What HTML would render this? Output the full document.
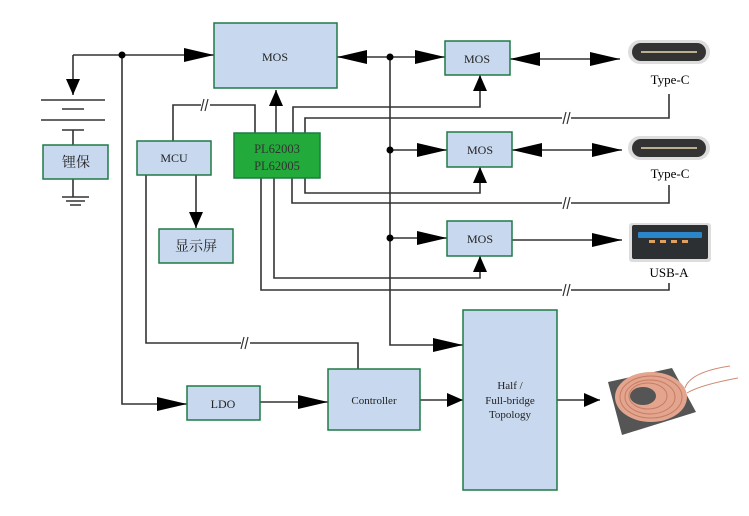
<!DOCTYPE html>
<html><head><meta charset="utf-8"><style>
html,body{margin:0;padding:0;background:#fff}
svg text{font-family:"Liberation Serif","Noto Serif CJK SC",serif;}
</style></head><body>
<svg width="749" height="511" viewBox="0 0 749 511" xmlns="http://www.w3.org/2000/svg">
<defs>
<marker id="A" viewBox="0 0 10 10" refX="10" refY="5" markerWidth="30" markerHeight="14" markerUnits="userSpaceOnUse" orient="auto" preserveAspectRatio="none"><path d="M0,0L10,5L0,10z" fill="#000"/></marker>
<marker id="As" viewBox="0 0 10 10" refX="0" refY="5" markerWidth="30" markerHeight="14" markerUnits="userSpaceOnUse" orient="auto" preserveAspectRatio="none"><path d="M10,0L0,5L10,10z" fill="#000"/></marker>
<marker id="U" viewBox="0 0 10 10" refX="10" refY="5" markerWidth="16" markerHeight="14" markerUnits="userSpaceOnUse" orient="auto" preserveAspectRatio="none"><path d="M0,0L10,5L0,10z" fill="#000"/></marker>
</defs>
<g fill="none" stroke="#333" stroke-width="1.6">
<path d="M73,55H214" marker-end="url(#A)"/>
<path d="M73,55V95" marker-end="url(#U)"/>
<path d="M122,55V404H187" marker-end="url(#A)"/>
<path d="M41,100H105M62,109H84M41,120H105M62,130H84M73,130V145M73,179V197M62,197H89M66,201H85M70,205H81"/>
<path d="M337,57H445" marker-start="url(#As)" marker-end="url(#A)"/>
<path d="M390,57V345H463" marker-end="url(#A)"/>
<path d="M390,150H447" marker-end="url(#A)"/>
<path d="M390,238H447" marker-end="url(#A)"/>
<path d="M510,59H620" marker-start="url(#As)" marker-end="url(#A)"/>
<path d="M512,150H622" marker-start="url(#As)" marker-end="url(#A)"/>
<path d="M512,240H622" marker-end="url(#A)"/>
<path d="M276,133V90" marker-end="url(#U)"/>
<path d="M173,141V105H255V133"/>
<path d="M196,175V228" marker-end="url(#U)"/>
<path d="M146,175V343H358V369"/>
<path d="M293,133V107H480V75" marker-end="url(#U)"/>
<path d="M305,133V118H669V94"/>
<path d="M305,178V193H480V167" marker-end="url(#U)"/>
<path d="M292,178V203H669V185"/>
<path d="M274,178V278H480V256" marker-end="url(#U)"/>
<path d="M261,178V290H669V283"/>
<path d="M260,402H328" marker-end="url(#A)"/>
<path d="M420,400H463" marker-end="url(#U)"/>
<path d="M557,400H600" marker-end="url(#U)"/>
</g>
<g fill="#fff" stroke="none"><rect x="201" y="100" width="9" height="10"/><rect x="241" y="338" width="9" height="10"/><rect x="562" y="113" width="9" height="10"/><rect x="562" y="198" width="9" height="10"/><rect x="562" y="285" width="9" height="10"/></g>
<g stroke="#333" stroke-width="1.2" fill="none">
<path d="M204,99L201,111M208,99L205,111M244,337L241,349M248,337L245,349M566,112L563,124M570,112L567,124M566,197L563,209M570,197L567,209M566,284L563,296M570,284L567,296"/>
</g>
<g fill="#000"><circle cx="122" cy="55" r="3.5"/><circle cx="390" cy="57" r="3.5"/><circle cx="390" cy="150" r="3.5"/><circle cx="390" cy="238" r="3.5"/></g>
<g fill="#c8d8ee" stroke="#1f7a45" stroke-width="1.5">
<rect x="214" y="23" width="123" height="65"/>
<rect x="43" y="145" width="65" height="34"/>
<rect x="137" y="141" width="74" height="34"/>
<rect x="159" y="229" width="74" height="34"/>
<rect x="445" y="41" width="65" height="34"/>
<rect x="447" y="132" width="65" height="35"/>
<rect x="447" y="221" width="65" height="35"/>
<rect x="187" y="386" width="73" height="34"/>
<rect x="328" y="369" width="92" height="61"/>
<rect x="463" y="310" width="94" height="180"/>
<rect x="234" y="133" width="86" height="45" fill="#22aa3a"/>
</g>
<g font-size="12" fill="#222" text-anchor="middle">
<text x="275" y="61">MOS</text>
<text x="477" y="63">MOS</text>
<text x="480" y="154">MOS</text>
<text x="480" y="243">MOS</text>
<text x="174" y="162">MCU</text>
<text x="76" y="167" font-size="14">锂保</text>
<text x="196" y="251" font-size="14">显示屏</text>
<text x="277" y="153" font-size="12.5" fill="#333">PL62003</text>
<text x="277" y="170" font-size="12.5" fill="#333">PL62005</text>
<text x="223" y="408">LDO</text>
<text x="374" y="404" font-size="11">Controller</text>
<text x="510" y="389" font-size="11">Half /</text>
<text x="510" y="404" font-size="11">Full-bridge</text>
<text x="510" y="418" font-size="11">Topology</text>
<text x="670" y="84" font-size="13" fill="#000">Type-C</text>
<text x="670" y="178" font-size="13" fill="#000">Type-C</text>
<text x="669" y="277" font-size="13" fill="#000">USB-A</text>
</g>
<g>
<rect x="628" y="40" width="82" height="24" rx="12" fill="#ddd"/>
<rect x="632" y="43" width="74" height="18" rx="9" fill="#333"/>
<line x1="641" y1="52" x2="697" y2="52" stroke="#e9d8b0" stroke-width="1.5"/>
<rect x="628" y="136" width="82" height="24" rx="12" fill="#ddd"/>
<rect x="632" y="139" width="74" height="18" rx="9" fill="#333"/>
<line x1="641" y1="148" x2="697" y2="148" stroke="#e9d8b0" stroke-width="1.5"/>
<rect x="629" y="223" width="82" height="39" rx="3" fill="#ddd"/>
<rect x="632" y="225" width="76" height="34" rx="2" fill="#2c3033"/>
<rect x="638" y="232" width="64" height="6" rx="1" fill="#2a86c8"/>
<g fill="#e0a060"><rect x="649" y="240" width="6" height="3"/><rect x="660" y="240" width="6" height="3"/><rect x="671" y="240" width="6" height="3"/><rect x="682" y="240" width="6" height="3"/></g>
</g>
<g>
<polygon points="608,382 672,368 696,412 622,435" fill="#555"/>
<ellipse cx="651" cy="397" rx="36" ry="25" fill="#e3a58e"/>
<ellipse cx="651" cy="397" rx="31" ry="21" fill="none" stroke="#c67c66" stroke-width="1"/>
<ellipse cx="650" cy="397" rx="25" ry="17" fill="none" stroke="#c67c66" stroke-width="1"/>
<ellipse cx="648" cy="396" rx="19" ry="13" fill="none" stroke="#c67c66" stroke-width="1"/>
<ellipse cx="643" cy="396" rx="13" ry="9" fill="#555"/>
<path d="M685,388Q690,372 730,366M687,393Q700,385 738,378" stroke="#d08a74" stroke-width="1" fill="none"/>
</g>
</svg>
</body></html>
